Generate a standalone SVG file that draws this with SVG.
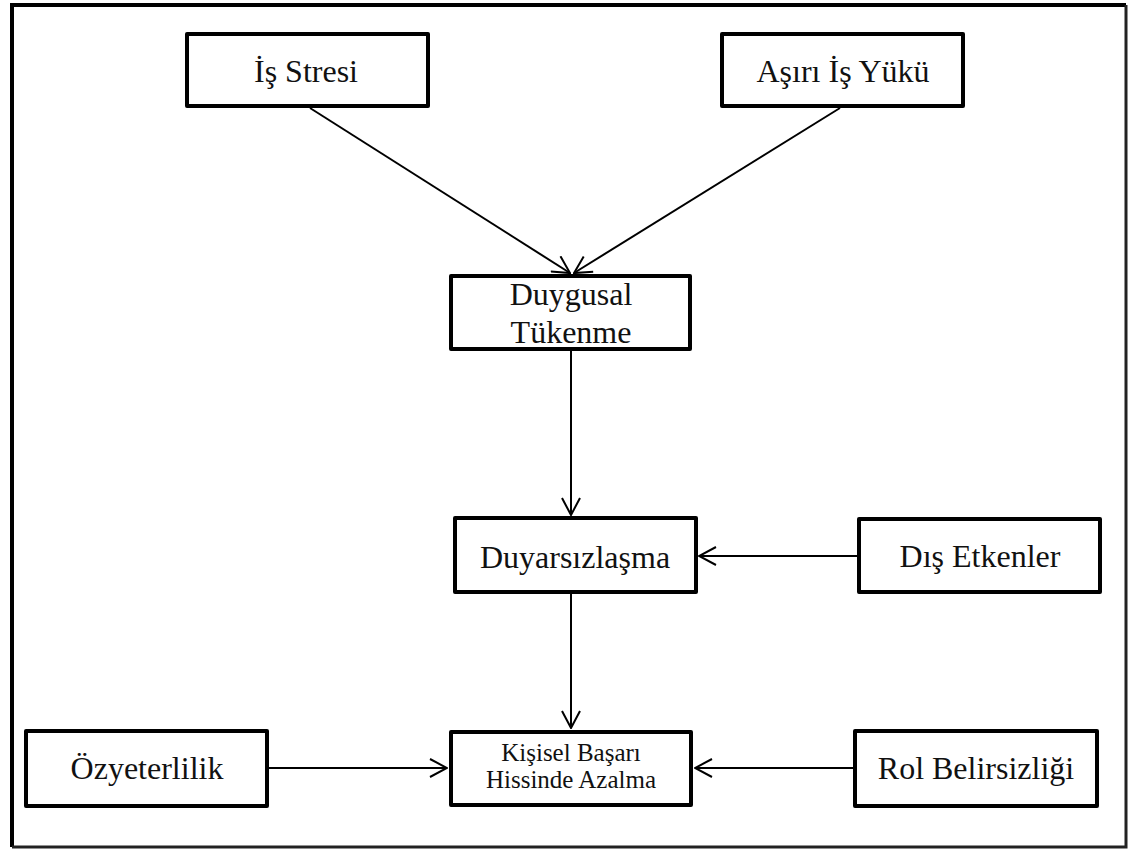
<svg xmlns="http://www.w3.org/2000/svg" width="1132" height="850" viewBox="0 0 1132 850">
<defs>
<style>
.box{fill:#fff;stroke:#000;stroke-width:4;stroke-linejoin:round}
.t{font-family:"Liberation Serif","Times New Roman",serif;font-size:32px;fill:#111;text-anchor:middle}
.ts{font-size:25px}
.c line{stroke:#000;stroke-width:2;marker-end:url(#ah)}
</style>
<marker id="ah" viewBox="0 0 20 20" refX="19" refY="10" markerWidth="20" markerHeight="20" markerUnits="userSpaceOnUse" orient="auto">
<path d="M2,1 L19,10 L2,19" fill="none" stroke="#000" stroke-width="2"/>
</marker>
</defs>
<rect width="1132" height="850" fill="#fff"/>
<path d="M12,847 L12,5 L1126,5" fill="none" stroke="#000" stroke-width="4"/>
<path d="M1126,5 L1126,847 L12,847" fill="none" stroke="#222" stroke-width="3"/>
<g class="c" id="connectors">
<line x1="310" y1="108" x2="570" y2="273"/>
<line x1="840" y1="108" x2="574" y2="273"/>
<line x1="571" y1="351" x2="571" y2="515"/>
<line x1="857" y1="556" x2="699" y2="556"/>
<line x1="571" y1="594" x2="571" y2="728"/>
<line x1="269" y1="768" x2="447" y2="768"/>
<line x1="853" y1="768" x2="695" y2="768"/>
</g>
<g id="is-stresi"><rect class="box" x="187" y="34" width="241" height="72"/><text class="t" x="306" y="82">İş Stresi</text></g>
<g id="asiri-is-yuku"><rect class="box" x="722" y="34" width="241" height="72"/><text class="t" x="843" y="82">Aşırı İş Yükü</text></g>
<g id="duygusal-tukenme"><rect class="box" x="451" y="276" width="239" height="73"/><text class="t" x="571" y="305">Duygusal</text><text class="t" x="571" y="343">Tükenme</text></g>
<g id="duyarsizlasma"><rect class="box" x="455" y="518" width="241" height="74"/><text class="t" x="575" y="568">Duyarsızlaşma</text></g>
<g id="dis-etkenler"><rect class="box" x="859" y="519" width="241" height="73"/><text class="t" x="980" y="567">Dış Etkenler</text></g>
<g id="kisisel-basari"><rect class="box" x="451" y="732" width="240" height="73"/><text class="t ts" x="571" y="761">Kişisel Başarı</text><text class="t ts" x="571" y="788">Hissinde Azalma</text></g>
<g id="ozyeterlilik"><rect class="box" x="26" y="731" width="241" height="75"/><text class="t" x="147" y="779">Özyeterlilik</text></g>
<g id="rol-belirsizligi"><rect class="box" x="855" y="731" width="242" height="75"/><text class="t" x="976" y="779">Rol Belirsizliği</text></g>
</svg>
